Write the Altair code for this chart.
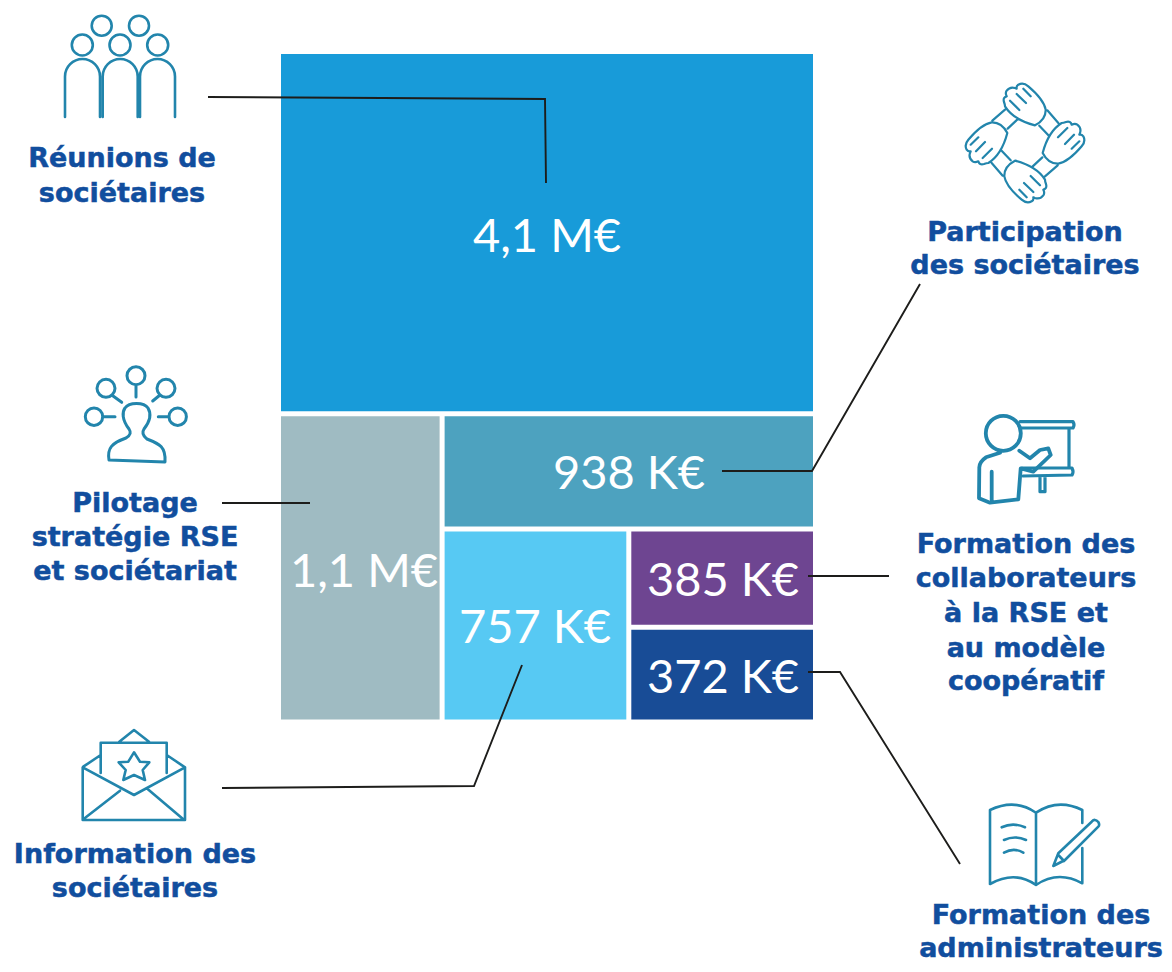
import re
import math
import altair as alt
import pandas as pd

# ---- data -----------------------------------------------------------------
block_names = ["Réunions", "Pilotage", "Participation", "Information", "Formation collab", "Formation admin"]
block_sizes = [4090, 1060, 905, 757, 385, 372]
value_labels = ["4,1 M€", "1,1 M€", "938 K€", "757 K€", "385 K€", "372 K€"]
block_colors = ["#189bd9", "#9fbbc2", "#4da2bf", "#57c9f3", "#6e4591", "#184c96"]

caption_lines = [
    ["Réunions de", "sociétaires"],
    ["Pilotage", "stratégie RSE", "et sociétariat"],
    ["Information des", "sociétaires"],
    ["Participation", "des sociétaires"],
    ["Formation des", "collaborateurs", "à la RSE et", "au modèle", "coopératif"],
    ["Formation des", "administrateurs"],
]

# ---- treemap layout, in page pixels ----------------------------------------
X0, X1, Y0, Y1, GAP = 278.5, 815.5, 51.5, 722.0, 2.5
s = block_sizes
rest = s[1] + s[2] + s[3] + s[4] + s[5]
y_top = Y0 + (Y1 - Y0) * s[0] / (s[0] + rest)
x_gray = X0 + (X1 - X0) * s[1] / rest
low = s[3] + s[4] + s[5]
y_part = y_top + (Y1 - y_top) * s[2] / (s[2] + low)
x_info = x_gray + (X1 - x_gray) * s[3] / low
y_mid = y_part + (Y1 - y_part) * s[4] / (s[4] + s[5])
boxes = [
    (X0, X1, Y0, y_top),
    (X0, x_gray, y_top, Y1),
    (x_gray, X1, y_top, y_part),
    (x_gray, x_info, y_part, Y1),
    (x_info, X1, y_part, y_mid),
    (x_info, X1, y_mid, Y1),
]
rects = pd.DataFrame(
    [
        dict(name=n, x=b[0] + GAP, x2=b[1] - GAP, y=b[2] + GAP, y2=b[3] - GAP, color=c)
        for n, b, c in zip(block_names, boxes, block_colors)
    ]
)

# ---- annotation placement --------------------------------------------------
value_places = [(547, 252), (364, 587), (629, 489), (535, 643), (723, 596), (723, 693)]
values = pd.DataFrame(
    [dict(t=t, x=p[0], y=p[1]) for t, p in zip(value_labels, value_places)]
)

caption_places = [
    (122, [167, 202]),
    (135, [512, 546, 580]),
    (135, [863, 897]),
    (1025, [241, 274]),
    (1026, [553, 587, 622, 657, 690]),
    (1041, [924, 957]),
]
captions = pd.DataFrame(
    [
        dict(t=t, x=p[0], y=yy)
        for lines, p in zip(caption_lines, caption_places)
        for t, yy in zip(lines, p[1])
    ]
)

leaders = [
    [(208, 97), (545, 99), (546, 183)],
    [(222, 503), (310, 503)],
    [(222, 788), (474, 786), (522, 665)],
    [(722, 471), (812, 471), (920, 284)],
    [(808, 576), (889, 576)],
    [(808, 672), (840, 672), (960, 864)],
]
lines_df = pd.DataFrame(
    [
        dict(g=i, i=j, x=p[0], y=p[1])
        for i, pts in enumerate(leaders)
        for j, p in enumerate(pts)
    ]
)

# ---- icons as stroked symbols ---------------------------------------------
PAIR = re.compile(r"(-?\d+\.?\d*),(-?\d+\.?\d*)")


def rel(path, cx, cy):
    return PAIR.sub(lambda m: f"{float(m[1]) - cx:.2f},{float(m[2]) - cy:.2f}", path)


def circle(cx, cy, r):
    return (
        f"M{cx - r},{cy} A{r} {r} 0 1 1 {cx + r},{cy} "
        f"A{r} {r} 0 1 1 {cx - r},{cy} Z "
    )


def arch(a, b):
    r = (b - a) / 2
    return f"M{a},117 L{a},{59 + r} A{r} {r} 0 0 1 {b},{59 + r} L{b},117 "


people = (
    circle(101.7, 25.7, 10)
    + circle(139, 25.7, 10)
    + circle(82.3, 45, 10.5)
    + circle(120, 45, 10.5)
    + circle(157.7, 45, 10.5)
    + arch(65, 100)
    + arch(102.7, 137.7)
    + arch(140, 175)
)

pilot = (
    "M109,460 C107,448 112,443 126,438 C131,435 131,432 129,429 C122,420 122,412 125,408 "
    "C129,402 144,402 148,408 C151,413 151,420 144,429 C142,432 142,435 147,439 "
    "C160,444 166,447 165,462 L109,460 Z "
    + circle(136, 375.7, 9)
    + "M136,385 L136,397 "
    + circle(106, 388.3, 9)
    + "M111.7,395 L121.7,402.3 "
    + circle(166, 388.3, 9)
    + "M160,395 L152.7,401 "
    + circle(94, 416.7, 8.7)
    + "M102.7,416.7 L115,416.7 "
    + circle(177.7, 416.7, 8.7)
    + "M169,416.7 L158.3,416.7 "
)

envelope = (
    "M82.7,767.3 L82.7,820 L185,820 L185,767.3 L134,795 L82.7,767.3 Z "
    "M83.3,819.3 L120,790.7 M183.3,819.3 L146.7,788.3 "
    "M100.7,773 L100.7,742.7 L166.7,742.7 L166.7,773 "
    "M83.3,766.7 L100.7,755 M166.7,755 L185,767.3 "
    "M119.3,741.7 L134,730 L149,741.7 "
    "M134,752.3 L140,761.7 L149.3,762.3 L142.7,770 L145,780 L134,775 L123.3,780 "
    "L125.7,770 L118.7,762.3 L128.3,761.7 Z"
)

# one hand and its arm, in zoomed picture units around the ring's centre
HAND = (
    "M135,85 Q160,125 225,142 Q258,125 257,95 Q252,65 205,25 Q190,12 175,20 "
    "Q168,25 170,32 L165,30 Q150,25 140,38 Q135,45 140,55 Q128,58 132,72 Q135,80 135,85 Z "
    "M170,48 L198,75 M150,68 L178,96 M190,32 L212,55 "
    "M135,95 L97,128 M175,122 L143,152 "
)


def turned(k):
    c, si = round(math.cos(k * math.pi / 2)), round(math.sin(k * math.pi / 2))

    def f(m):
        dx, dy = (float(m[1]) - 195) / 3, (float(m[2]) - 195) / 3
        return f"{1025 + c * dx - si * dy:.2f},{143 + si * dx + c * dy:.2f}"

    return PAIR.sub(f, HAND)


hands = "".join(turned(k) for k in range(4))

presenter_light = (
    "M1020,421.7 L1073,421.7 Q1075,425 1073,428 L1021,428 "
    "M1069,428 L1069,468 "
    "M1022,468 L1072,468 Q1074,472 1072,475 L1023,476 "
    "M1040,476.7 L1040,491.7 L1045,491.7 L1045,476.7 "
)
presenter_bold = (
    circle(1003.3, 433.3, 17.5)
    + "M1000,452.7 L986,457.3 Q979,462 979.3,468 L979,498.3 L990,502.7 L1018.3,499.3 "
    "L1020.7,468.3 L1033.3,471.7 L1050.7,455 L1048.3,448.3 L1040,450 L1030,458.3 L1019.3,450.7 "
    "M991.7,471.7 L991.7,500 "
)

book = (
    "M990,884 L990,810 Q1015,798 1036,812.7 Q1058,798 1082.3,810 L1082.3,823 "
    "M1082.3,848 L1082.3,883.3 Q1058,870 1036,885 Q1015,870 990,884 "
    "M1036,812.7 L1036,885 "
    "M1001.7,827.3 Q1013,822 1025,827.3 M1004,840 Q1015,835 1026,840 M1004,852.7 Q1014,847 1023.3,852.7 "
    "M1053.3,866 L1058.3,853.3 L1091.7,821.7 Q1095,818 1098.3,822 Q1100,825 1098.3,826.7 L1065,860 Z "
    "M1058.3,855 L1064,861 "
)

icon_rows = [
    (120, 65, people, 2.6),
    (135, 415, pilot, 3.0),
    (134, 775, envelope, 2.6),
    (1025, 143, hands, 2.2),
    (1025, 460, presenter_light, 3.2),
    (1025, 460, presenter_bold, 3.8),
    (1040, 845, book, 2.6),
]
icons = pd.DataFrame(
    [dict(x=c[0], y=c[1], path=rel(c[2], c[0], c[1]), w=c[3]) for c in icon_rows]
)

# ---- chart ----------------------------------------------------------------
W, H = 1156, 956
xs = alt.Scale(domain=[8, 8 + W], nice=False, zero=False)
ys = alt.Scale(domain=[8 + H, 8], nice=False, zero=False)
X = alt.X("x:Q", scale=xs, axis=None)
Y = alt.Y("y:Q", scale=ys, axis=None)

rect_layer = (
    alt.Chart(rects)
    .mark_rect()
    .encode(
        x=X,
        x2="x2:Q",
        y=Y,
        y2="y2:Q",
        color=alt.Color("color:N", scale=None),
    )
)

value_layer = (
    alt.Chart(values)
    .mark_text(font="Lato", fontSize=47, color="white", align="center", baseline="alphabetic")
    .encode(x=X, y=Y, text="t:N")
)

caption_layer = (
    alt.Chart(captions)
    .mark_text(
        font="DejaVu Sans",
        fontWeight="bold",
        fontSize=27,
        color="#114e9e",
        stroke="#114e9e",
        strokeWidth=0.5,
        align="center",
        baseline="alphabetic",
    )
    .encode(x=X, y=Y, text="t:N")
)

line_layer = (
    alt.Chart(lines_df)
    .mark_line(color="#1d1d1b", strokeWidth=1.9)
    .encode(x=X, y=Y, detail="g:N", order="i:Q")
)

icon_layer = (
    alt.Chart(icons)
    .mark_point(filled=False, size=4, opacity=1, color="#2285ac", strokeJoin="round", strokeCap="round")
    .encode(
        x=X,
        y=Y,
        shape=alt.Shape("path:N", scale=None),
        strokeWidth=alt.StrokeWidth("w:Q", scale=None),
    )
)

chart = (
    alt.layer(rect_layer, value_layer, line_layer, caption_layer, icon_layer)
    .properties(
        width=W,
        height=H,
        padding=0,
        background="white",
        autosize=alt.AutoSizeParams(type="none"),
    )
    .configure_view(stroke=None)
)

chart.save("out.html", embed_options={"renderer": "svg", "actions": False})
